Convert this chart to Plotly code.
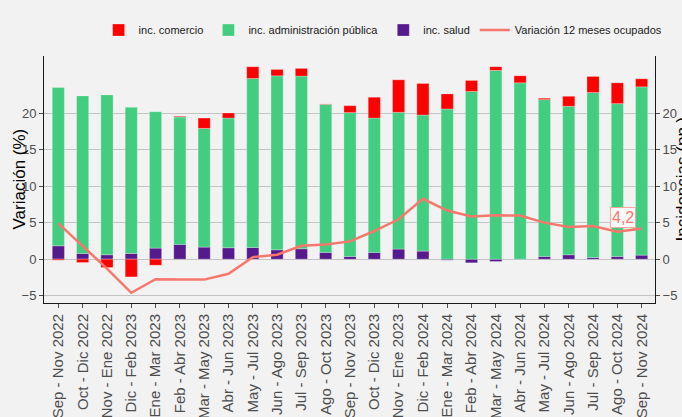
import plotly.graph_objects as go

categories = ["Sep - Nov 2022", "Oct - Dic 2022", "Nov - Ene 2022", "Dic - Feb 2023", "Ene - Mar 2023",
              "Feb - Abr 2023", "Mar - May 2023", "Abr - Jun 2023", "May - Jul 2023", "Jun - Ago 2023",
              "Jul - Sep 2023", "Ago - Oct 2023", "Sep - Nov 2023", "Oct - Dic 2023", "Nov - Ene 2023",
              "Dic - Feb 2024", "Ene - Mar 2024", "Feb - Abr 2024", "Mar - May 2024", "Abr - Jun 2024",
              "May - Jul 2024", "Jun - Ago 2024", "Jul - Sep 2024", "Ago - Oct 2024", "Sep - Nov 2024"]

inc_salud = [1.83, 0.78, 0.60, 0.78, 1.51, 2.02, 1.65, 1.56, 1.60, 1.28, 1.42, 0.92, 0.37,
             0.92, 1.38, 1.10, -0.14, -0.50, -0.32, -0.05, 0.37, 0.60, 0.23, 0.37, 0.55]
inc_admin = [21.66, 21.56, 21.88, 20.00, 18.67, 17.43, 16.24, 17.75, 23.12, 23.81, 23.63, 20.27, 19.68,
             18.39, 18.71, 18.62, 20.55, 22.94, 25.83, 24.13, 21.46, 20.32, 22.57, 20.91, 23.03]
inc_comercio = [-0.14, -0.46, -1.15, -2.43, -0.83, 0.10, 1.42, 0.69, 1.61, 0.87, 1.05, 0.05, 0.95,
                2.85, 4.45, 4.32, 2.06, 1.51, 0.50, 0.96, 0.19, 1.37, 2.20, 2.85, 1.10]
var_ocupados = [4.9, 1.8, -1.3, -4.6, -2.75, -2.8, -2.8, -2.0, 0.28, 0.6, 1.83, 2.02, 2.43,
                3.85, 5.46, 8.26, 6.65, 5.83, 6.0, 5.96, 5.0, 4.4, 4.54, 3.76, 4.2]
last_label = "4,2"
left_title = "Variación (%)"
right_title = "Incidencias (pp.)"

FONT = "Liberation Sans, Arial, sans-serif"
BG = "#F2F2F2"
edge = dict(color="rgba(255,255,255,0.45)", width=0.6)

fig = go.Figure()
fig.add_trace(go.Bar(x=categories, y=inc_salud, name="inc. salud", marker=dict(color="#551A8B", line=edge),
                     width=0.5, legendrank=3))
fig.add_trace(go.Bar(x=categories, y=inc_admin, name="inc. administración pública",
                     marker=dict(color="#43CD80", line=edge), width=0.5, legendrank=2))
fig.add_trace(go.Bar(x=categories, y=inc_comercio, name="inc. comercio", marker=dict(color="#FF0000", line=edge),
                     width=0.5, legendrank=1))
fig.add_trace(go.Scatter(x=categories, y=var_ocupados, name="Variación 12 meses ocupados", mode="lines",
                         line=dict(color="#F8776D", width=2.5), yaxis="y2", legendrank=4))

fig.add_annotation(x=categories[-1], y=var_ocupados[-1], yref="y2", text=last_label, showarrow=False,
                   xshift=-19, yshift=11, font=dict(color="#F8776D", size=16, family=FONT),
                   bgcolor="#FAFAFA", bordercolor="#F8A8A0", borderwidth=1, borderpad=1)
fig.add_annotation(xref="paper", yref="paper", x=1, y=0.5, xshift=27, text=right_title, showarrow=False,
                   textangle=-90, xanchor="center", yanchor="middle",
                   font=dict(size=17, color="#000000", family=FONT))
fig.add_annotation(xref="paper", yref="paper", x=0, y=0.5, xshift=-25, text=left_title, showarrow=False,
                   textangle=-90, xanchor="center", yanchor="middle",
                   font=dict(size=17, color="#000000", family=FONT))

yr = [-6.0, 27.8]
tickv = [-5, 0, 5, 10, 15, 20]
fig.update_layout(
    width=682, height=417,
    margin=dict(l=44, r=27, t=56, b=114),
    paper_bgcolor=BG, plot_bgcolor=BG,
    barmode="relative", bargap=0.5,
    font=dict(family=FONT, color="#4D4D4D", size=13),
    showlegend=True,
    legend=dict(orientation="h", x=0.555, xanchor="center", y=1.105, yanchor="middle",
                font=dict(size=11, color="#1A1A1A"), bgcolor="rgba(0,0,0,0)", itemwidth=30),
    xaxis=dict(range=[-0.59, 24.55], tickangle=-90, showgrid=False, showline=True, linecolor="#1A1A1A",
               linewidth=1, ticks="outside", ticklen=4, tickcolor="#4D4D4D", mirror=False,
               tickfont=dict(size=15, color="#4D4D4D"), automargin=False),
    yaxis=dict(range=yr, tickvals=tickv, showgrid=True, gridcolor="#C4C4C4", gridwidth=1,
               zeroline=False, showline=True, linecolor="#1A1A1A", linewidth=1, ticks="outside",
               ticklen=4, tickcolor="#4D4D4D", tickfont=dict(size=13, color="#4D4D4D"),
               automargin=False),
    yaxis2=dict(range=yr, tickvals=tickv, overlaying="y", side="right", showgrid=False, zeroline=False,
                showline=True, linecolor="#1A1A1A", linewidth=1, ticks="outside", ticklen=4,
                tickcolor="#4D4D4D", tickfont=dict(size=13, color="#4D4D4D"), automargin=False),
)

fig.write_html("out.html", config={"displayModeBar": False},
               post_script="document.body.style.margin='0';document.body.style.padding='0';")
